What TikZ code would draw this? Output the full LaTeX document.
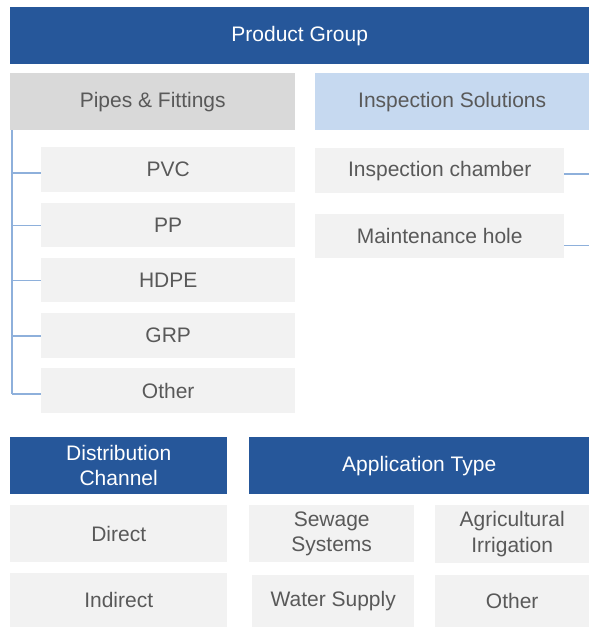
\documentclass[tikz,border=0pt]{standalone}
\usepackage{fontspec}
\setmainfont{Liberation Sans}
\definecolor{dblue}{HTML}{26579A}
\definecolor{lgray}{HTML}{F2F2F2}
\definecolor{mgray}{HTML}{D9D9D9}
\definecolor{lblue}{HTML}{C6D9F0}
\definecolor{tgray}{HTML}{595959}
\definecolor{lnblue}{HTML}{8EB0DB}
\begin{document}
\begin{tikzpicture}[x=1pt,y=-1pt,
  cell/.style={rectangle, anchor=north west, inner sep=0pt, align=center,
    font=\fontsize{21}{25.5}\selectfont},
  head/.style={cell, fill=dblue, text=white},
  item/.style={cell, fill=lgray, text=tgray},
  conn/.style={draw=lnblue, line width=1.4pt}]
\useasboundingbox (0,0) rectangle (589,627);
% top header
\node[head, minimum width=579pt, minimum height=57pt] (pg) at (10,7) {Product Group};
\node[cell, fill=mgray, text=tgray, minimum width=285pt, minimum height=57pt] (pf) at (10,73) {Pipes \& Fittings};
\node[cell, fill=lblue, text=tgray, minimum width=274pt, minimum height=57pt] (is) at (315,73) {Inspection Solutions};
% pipes items
\node[item, minimum width=254pt, minimum height=45pt] (pvc) at (41,147) {PVC};
\node[item, minimum width=254pt, minimum height=44pt] (pp) at (41,203) {PP};
\node[item, minimum width=254pt, minimum height=44pt] (hdpe) at (41,258) {HDPE};
\node[item, minimum width=254pt, minimum height=45pt] (grp) at (41,313) {GRP};
\node[item, minimum width=254pt, minimum height=45pt] (oth1) at (41,368) {Other};
% inspection items
\node[item, minimum width=249pt, minimum height=45pt] (ic) at (315,148) {Inspection chamber};
\node[item, minimum width=249pt, minimum height=44pt] (mh) at (315,214) {Maintenance hole};
% connectors left
\coordinate (t0) at (12,130);
\coordinate (t1) at (12,173);
\coordinate (t2) at (12,225.5);
\coordinate (t3) at (12,280.5);
\coordinate (t4) at (12,336);
\coordinate (t5) at (12,394);
\draw[conn] (t0) -- (t5);
\draw[conn] (t1) -- (t1 -| pvc.west);
\draw[conn] (t2) -- (t2 -| pp.west);
\draw[conn] (t3) -- (t3 -| hdpe.west);
\draw[conn] (t4) -- (t4 -| grp.west);
\draw[conn] (t5) -- (t5 -| oth1.west);
% connectors right
\coordinate (r1) at (589,174);
\coordinate (r2) at (589,245.5);
\draw[conn] (r1 -| ic.east) -- (r1);
\draw[conn] (r2 -| mh.east) -- (r2);
% bottom section
\node[head, minimum width=217pt, minimum height=57pt] (dc) at (10,437) {Distribution\\Channel};
\node[head, minimum width=340pt, minimum height=57pt] (at) at (249,437) {Application Type};
\node[item, minimum width=217pt, minimum height=57pt] (dir) at (10,505) {Direct};
\node[item, minimum width=217pt, minimum height=54pt] (ind) at (10,573) {Indirect};
\node[item, minimum width=165pt, minimum height=57pt] (sew) at (249,505) {Sewage\\Systems};
\node[item, minimum width=154pt, minimum height=58pt] (agr) at (435,505) {Agricultural\\Irrigation};
\node[item, minimum width=162pt, minimum height=52pt] (ws) at (252,575) {Water Supply};
\node[item, minimum width=154pt, minimum height=52pt] (oth2) at (435,575) {Other};
\end{tikzpicture}
\end{document}
